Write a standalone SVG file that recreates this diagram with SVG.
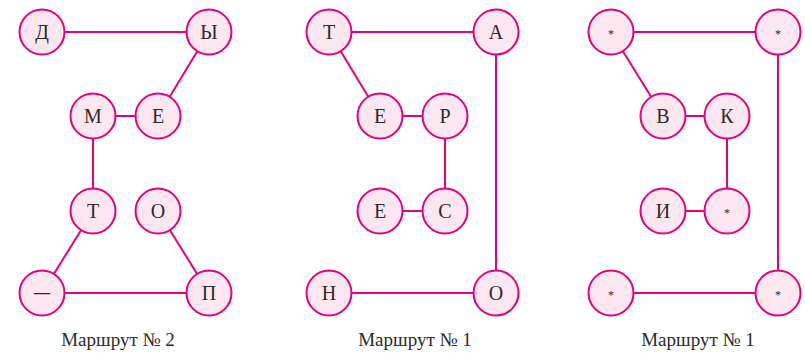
<svg xmlns="http://www.w3.org/2000/svg" width="805" height="353" viewBox="0 0 805 353">
  <style>
    .edge { stroke: #e5007d; stroke-width: 2; fill: none; }
    .node circle { fill: #fce6f0; stroke: #e5007d; stroke-width: 2; }
    .node text { font-family: "Liberation Serif", "DejaVu Serif", serif; font-size: 20px; fill: #2b2b2b; text-anchor: middle; }
    .node text.star { font-size: 12px; }
    .node text.dash { font-size: 16px; font-weight: bold; }
    .caption { font-family: "Liberation Serif", "DejaVu Serif", serif; font-size: 19px; fill: #2b2b2b; text-anchor: middle; }
  </style>
  <rect width="805" height="353" fill="#ffffff"/>

  <!-- connectors -->
  <g id="connectors">
    <!-- route 2 -->
    <line class="edge" x1="42" y1="32" x2="209" y2="32"/>
    <line class="edge" x1="209" y1="32" x2="158" y2="116"/>
    <line class="edge" x1="158" y1="116" x2="93" y2="116"/>
    <line class="edge" x1="93" y1="116" x2="93" y2="211"/>
    <line class="edge" x1="93" y1="211" x2="42" y2="293"/>
    <line class="edge" x1="42" y1="293" x2="209" y2="293"/>
    <line class="edge" x1="209" y1="293" x2="158" y2="211"/>
    <!-- route 1 (middle) -->
    <line class="edge" x1="329" y1="32" x2="496" y2="32"/>
    <line class="edge" x1="329" y1="32" x2="380" y2="116"/>
    <line class="edge" x1="380" y1="116" x2="445" y2="116"/>
    <line class="edge" x1="445" y1="116" x2="445" y2="211"/>
    <line class="edge" x1="445" y1="211" x2="380" y2="211"/>
    <line class="edge" x1="496" y1="32" x2="496" y2="293"/>
    <line class="edge" x1="496" y1="293" x2="329" y2="293"/>
    <!-- route 1 (right) -->
    <line class="edge" x1="611" y1="32" x2="778" y2="32"/>
    <line class="edge" x1="611" y1="32" x2="663" y2="116"/>
    <line class="edge" x1="663" y1="116" x2="727" y2="116"/>
    <line class="edge" x1="727" y1="116" x2="727" y2="211"/>
    <line class="edge" x1="727" y1="211" x2="663" y2="211"/>
    <line class="edge" x1="778" y1="32" x2="778" y2="293"/>
    <line class="edge" x1="778" y1="293" x2="611" y2="293"/>
  </g>

  <!-- route 2 nodes -->
  <g id="a-d" class="node"><circle cx="42" cy="32" r="22.5"/><text x="42" y="39">Д</text></g>
  <g id="a-y" class="node"><circle cx="209" cy="32" r="22.5"/><text x="209" y="39">Ы</text></g>
  <g id="a-m" class="node"><circle cx="93" cy="116" r="22.5"/><text x="93" y="123">М</text></g>
  <g id="a-e" class="node"><circle cx="158" cy="116" r="22.5"/><text x="158" y="123">Е</text></g>
  <g id="a-t" class="node"><circle cx="93" cy="211" r="22.5"/><text x="93" y="218">Т</text></g>
  <g id="a-o" class="node"><circle cx="158" cy="211" r="22.5"/><text x="158" y="218">О</text></g>
  <g id="a-dash" class="node"><circle cx="42" cy="293" r="22.5"/><text class="dash" x="42" y="298">—</text></g>
  <g id="a-p" class="node"><circle cx="209" cy="293" r="22.5"/><text x="209" y="300">П</text></g>

  <!-- middle route 1 nodes -->
  <g id="b-t" class="node"><circle cx="329" cy="32" r="22.5"/><text x="329" y="39">Т</text></g>
  <g id="b-a" class="node"><circle cx="496" cy="32" r="22.5"/><text x="496" y="39">А</text></g>
  <g id="b-e1" class="node"><circle cx="380" cy="116" r="22.5"/><text x="380" y="123">Е</text></g>
  <g id="b-r" class="node"><circle cx="445" cy="116" r="22.5"/><text x="445" y="123">Р</text></g>
  <g id="b-e2" class="node"><circle cx="380" cy="211" r="22.5"/><text x="380" y="218">Е</text></g>
  <g id="b-s" class="node"><circle cx="445" cy="211" r="22.5"/><text x="445" y="218">С</text></g>
  <g id="b-n" class="node"><circle cx="329" cy="293" r="22.5"/><text x="329" y="300">Н</text></g>
  <g id="b-o" class="node"><circle cx="496" cy="293" r="22.5"/><text x="496" y="300">О</text></g>

  <!-- right route 1 nodes -->
  <g id="c-s1" class="node"><circle cx="611" cy="32" r="22.5"/><text class="star" x="611" y="38">*</text></g>
  <g id="c-s2" class="node"><circle cx="778" cy="32" r="22.5"/><text class="star" x="778" y="38">*</text></g>
  <g id="c-v" class="node"><circle cx="663" cy="116" r="22.5"/><text x="663" y="123">В</text></g>
  <g id="c-k" class="node"><circle cx="727" cy="116" r="22.5"/><text x="727" y="123">К</text></g>
  <g id="c-i" class="node"><circle cx="663" cy="211" r="22.5"/><text x="663" y="218">И</text></g>
  <g id="c-s3" class="node"><circle cx="727" cy="211" r="22.5"/><text class="star" x="727" y="217">*</text></g>
  <g id="c-s4" class="node"><circle cx="611" cy="293" r="22.5"/><text class="star" x="611" y="299">*</text></g>
  <g id="c-s5" class="node"><circle cx="778" cy="293" r="22.5"/><text class="star" x="778" y="299">*</text></g>

  <!-- captions -->
  <text class="caption" x="118" y="346">Маршрут № 2</text>
  <text class="caption" x="415" y="346">Маршрут № 1</text>
  <text class="caption" x="698" y="346">Маршрут № 1</text>
</svg>
